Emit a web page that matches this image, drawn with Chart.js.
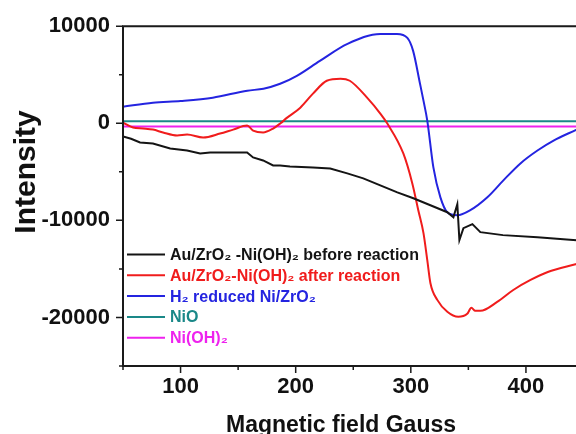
<!DOCTYPE html>
<html><head><meta charset="utf-8">
<script src="https://cdn.jsdelivr.net/npm/chart.js@4/dist/chart.umd.min.js"></script>
<style>
html,body{margin:0;padding:0;overflow:hidden;background:#fff;width:576px;height:434px}
#wrap{position:absolute;left:0;top:0;width:600px;height:434px}
</style>
</head><body><div id="wrap"><canvas id="c" width="600" height="434"></canvas></div>
<script>
// ---- data ----
const seriesLabels = ['Au/ZrO\u2082 -Ni(OH)\u2082 before reaction', 'Au/ZrO\u2082-Ni(OH)\u2082 after reaction', 'H\u2082 reduced Ni/ZrO\u2082', 'NiO', 'Ni(OH)\u2082'];
const seriesColors = ['#141414', '#f01c1c', '#2424e0', '#1a8888', '#ee22ee'];

const blackX = [50, 57, 64.8, 76, 91, 105.7, 117, 125.7, 149, 157.8, 163, 171.7, 180.4, 186.5, 195, 215, 230, 244.8, 258.7, 273.5, 288.3, 302.2, 317, 331.7, 337, 340.4, 342.2, 345.7, 353.5, 360.4, 380, 410, 441, 450];
const blackY = [-1360, -1600, -1980, -2080, -2600, -2800, -3110, -3010, -3010, -3010, -3520, -3830, -4340, -4340, -4440, -4550, -4650, -5160, -5670, -6390, -7110, -7720, -8440, -9160, -9680, -8330, -12030, -10800, -10390, -11210, -11520, -11730, -12030, -12100];

const redX = [50, 58.7, 67.4, 76, 84.8, 97, 105.7, 119.6, 134.3, 145.7, 157.8, 163, 171.7, 180.4, 186.5, 192.6, 204, 215, 227, 239, 247, 262, 273.5, 279.6, 293.5, 301.3, 306.5, 311, 314.3, 317, 323, 331.7, 341.3, 349, 352.6, 356, 360.4, 375, 389, 404, 419, 444, 450];
const redY = [70, -440, -540, -650, -950, -1260, -1160, -1470, -1060, -650, -240, -750, -950, -540, -30, 580, 1610, 3050, 4380, 4590, 4380, 2640, 1000, -30, -3110, -6190, -8960, -11320, -14090, -16450, -18190, -19420, -19940, -19630, -19010, -19320, -19320, -18400, -17170, -16140, -15320, -14500, -14300];

const blueX = [50, 76, 100, 128, 158, 172, 186.5, 201, 221, 245, 273.5, 288, 297, 302, 308, 311, 314.3, 319.6, 325.7, 331.7, 340.4, 351.7, 366.5, 380.4, 395.2, 410, 424, 444, 450];
const blueY = [1710, 2120, 2300, 2640, 3360, 3560, 4070, 4890, 6430, 8180, 9200, 9200, 8790, 7460, 4070, 2330, 280, -4550, -7630, -9160, -9470, -8950, -7620, -5880, -4130, -2800, -1780, -650, -300];

const tealX = [50, 450];
const tealY = [200, 200];
const magentaX = [50, 450];
const magentaY = [-330, -330];

const xTickLabels = [100, 200, 300, 400];
const yTickLabels = [10000, 0, -10000, -20000];
const xTitle = 'Magnetic field Gauss';
const yTitle = 'Intensity';

// ---- build ----
const zip = (xs, ys) => xs.map((x, i) => ({x: x, y: ys[i]}));
const allX = [blackX, redX, blueX, tealX, magentaX];
const allY = [blackY, redY, blueY, tealY, magentaY];
const FONT = '"Liberation Sans", Arial, sans-serif';

const datasets = seriesLabels.map((lab, i) => ({
  label: lab,
  data: zip(allX[i], allY[i]),
  borderColor: seriesColors[i],
  backgroundColor: seriesColors[i],
  borderWidth: 2,
  pointRadius: 0,
  fill: false,
  cubicInterpolationMode: (i === 1 || i === 2) ? 'monotone' : 'default',
  tension: 0
}));

const axesPlugin = {
  id: 'axesPlugin',
  afterDraw(chart) {
    const ctx = chart.ctx;
    const a = chart.chartArea;
    const xs = chart.scales.x, ys = chart.scales.y;
    ctx.save();
    ctx.strokeStyle = '#1a1a1a';
    ctx.lineWidth = 2;
    ctx.beginPath();
    ctx.moveTo(a.left, a.top); ctx.lineTo(a.left, a.bottom);
    ctx.moveTo(a.left - 1, a.bottom); ctx.lineTo(a.right, a.bottom);
    ctx.moveTo(a.left - 1, a.top); ctx.lineTo(a.right, a.top);
    ctx.stroke();
    ctx.lineWidth = 1.5;
    ctx.beginPath();
    ys.ticks.forEach(t => {
      const p = ys.getPixelForValue(t.value);
      const len = yTickLabels.includes(t.value) ? 7 : 4;
      ctx.moveTo(a.left - len, p); ctx.lineTo(a.left, p);
    });
    xs.ticks.forEach(t => {
      const p = xs.getPixelForValue(t.value);
      const len = xTickLabels.includes(t.value) ? 7 : 4;
      ctx.moveTo(p, a.bottom); ctx.lineTo(p, a.bottom + len);
    });
    ctx.stroke();
    // axis titles
    ctx.fillStyle = '#111';
    ctx.font = 'bold 23px ' + FONT;
    ctx.textAlign = 'center';
    ctx.textBaseline = 'alphabetic';
    ctx.fillText(xTitle, 341, 432);
    ctx.translate(35, 172);
    ctx.rotate(-Math.PI / 2);
    ctx.font = 'bold 30px ' + FONT;
    ctx.fillText(yTitle, 0, 0);
    ctx.restore();

    // legend
    ctx.save();
    ctx.font = 'bold 16px ' + FONT;
    ctx.textAlign = 'left';
    ctx.textBaseline = 'middle';
    chart.data.datasets.forEach((ds, i) => {
      const yy = 254.5 + i * 20.8;
      ctx.strokeStyle = ds.borderColor;
      ctx.lineWidth = 2;
      ctx.beginPath();
      ctx.moveTo(127, yy); ctx.lineTo(165, yy);
      ctx.stroke();
      ctx.fillStyle = ds.borderColor;
      ctx.fillText(ds.label, 170, yy + 1);
    });
    ctx.restore();
  }
};

new Chart(document.getElementById('c'), {
  type: 'line',
  data: {datasets: datasets},
  options: {
    responsive: false,
    animation: false,
    devicePixelRatio: 1,
    layout: {padding: {top: 25, right: 16.5, left: 0, bottom: 0}},
    plugins: {legend: {display: false}, tooltip: {enabled: false}, title: {display: false}},
    scales: {
      x: {
        type: 'linear', min: 50, max: 450,
        grid: {display: false, drawTicks: false},
        border: {display: false},
        ticks: {
          stepSize: 50, autoSkip: false, maxRotation: 0, padding: 8,
          color: '#111', font: {family: FONT, size: 22, weight: 'bold'},
          callback: v => xTickLabels.includes(v) ? String(v) : ''
        },
        afterFit: s => { s.height = 68; }
      },
      y: {
        type: 'linear', min: -25000, max: 10000,
        grid: {display: false, drawTicks: false},
        border: {display: false},
        ticks: {
          stepSize: 5000, autoSkip: false, padding: 13,
          color: '#111', font: {family: FONT, size: 22, weight: 'bold'},
          callback: v => yTickLabels.includes(v) ? String(v) : ''
        },
        afterFit: s => { s.width = 123; }
      }
    }
  },
  plugins: [axesPlugin]
});
</script>
</body></html>
